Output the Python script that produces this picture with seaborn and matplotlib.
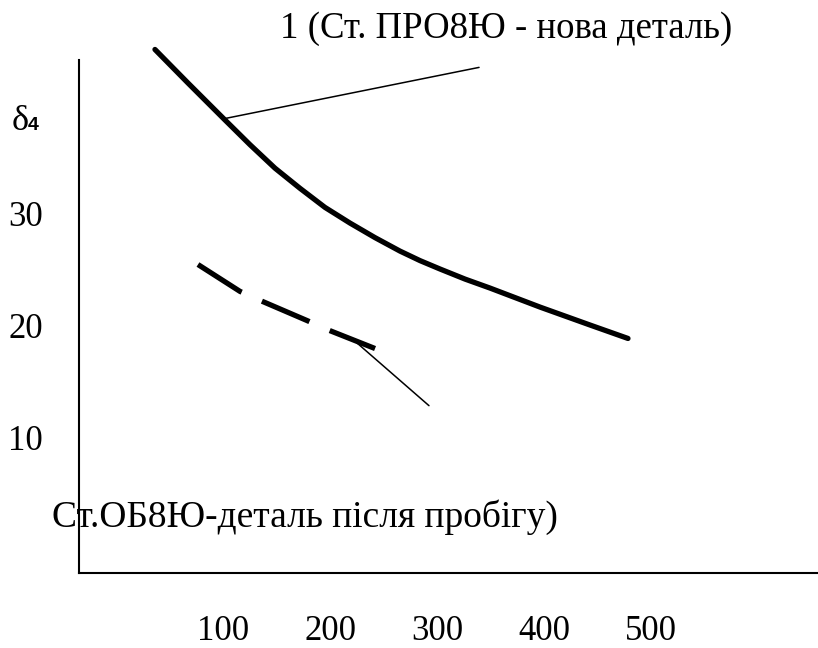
import seaborn as sns
import matplotlib.pyplot as plt

# values: run (x) and delta_4 (y)
new_x = [36.4, 67.3, 101.9, 125.2, 148.6, 172.0, 195.3, 218.7, 242.1,
         265.4, 284.1, 302.8, 326.2, 349.5, 396.3, 443.0, 478.5]
new_y = [44.6, 41.6, 38.3, 36.1, 34.0, 32.2, 30.5, 29.1, 27.8,
         26.6, 25.75, 25.0, 24.1, 23.3, 21.6, 20.0, 18.8]
used_x = [76.6, 115.9, 134.6, 178.5, 197.2, 242.1]
used_y = [25.4, 23.0, 22.2, 20.4, 19.6, 17.9]

# leader lines from the curves to their captions
lead_new_x = [100.0, 339.3]
lead_new_y = [38.4, 43.0]
lead_used_x = [225.2, 292.5]
lead_used_y = [18.4, 12.8]

x_ticks = [100, 200, 300, 400, 500]
y_ticks = [10, 20, 30]
label_new = "1 (Ст. ПРО8Ю - нова деталь)"
label_used = "Ст.ОБ8Ю-деталь після пробігу)"


def main():
    sns.set_style("white", rc={
        "axes.edgecolor": "black",
        "text.color": "black",
        "xtick.color": "black",
        "ytick.color": "black",
    })
    plt.rcParams["font.family"] = ["Liberation Serif", "DejaVu Serif"]

    fig = plt.figure(figsize=(8.18, 6.48), dpi=100)
    ax = fig.add_axes([79 / 818, 75 / 648, 739 / 818, 513 / 648])

    sns.lineplot(x=new_x, y=new_y, ax=ax, color="black", linewidth=3.8,
                 sort=False, clip_on=False, solid_joinstyle="round")
    sns.lineplot(x=used_x, y=used_y, ax=ax, color="black", linewidth=3.8,
                 sort=False, linestyle=(0, (9.8, 4.2)), clip_on=False)
    sns.lineplot(x=lead_new_x, y=lead_new_y, ax=ax, color="black",
                 linewidth=1.1, sort=False, clip_on=False)
    sns.lineplot(x=lead_used_x, y=lead_used_y, ax=ax, color="black",
                 linewidth=1.1, sort=False, clip_on=False)

    ax.set_xlim(-34.6, 656.1)
    ax.set_ylim(-2.14, 43.66)
    sns.despine(ax=ax)
    for side in ["left", "bottom"]:
        ax.spines[side].set_linewidth(1.5)

    ax.set_xticks(x_ticks)
    ax.set_xticklabels([str(t) for t in x_ticks])
    ax.set_yticks(y_ticks)
    ax.set_yticklabels([str(t) for t in y_ticks])
    ax.tick_params(axis="x", length=0, pad=30, labelsize=25)
    ax.tick_params(axis="y", length=0, pad=26, labelsize=25)
    ax.grid(False)

    # axis name delta_4 (the subscript sits on the baseline in the source)
    ax.text(-97.2, 37.4, "δ", fontsize=26, ha="left", va="baseline",
            clip_on=False)
    ax.text(-82.2, 37.4, "4", fontsize=14, fontweight="bold",
            family=["Liberation Sans", "DejaVu Sans"], ha="left",
            va="baseline", clip_on=False)

    ax.text(153.0, 45.6, label_new, fontsize=26.5, ha="left", va="baseline",
            clip_on=False)
    ax.text(-59.8, 1.96, label_used, fontsize=27, ha="left", va="baseline",
            clip_on=False)

    fig.savefig("out.png", dpi=100)


if __name__ == "__main__":
    main()
